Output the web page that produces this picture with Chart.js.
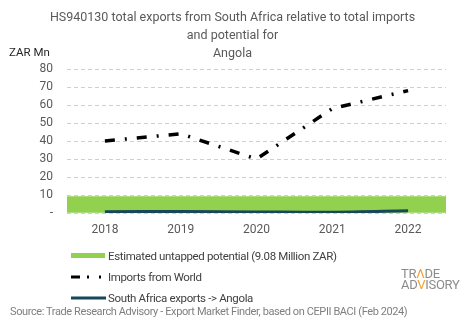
<!DOCTYPE html>
<html lang="en">
<head>
    <meta charset="UTF-8">
    <title>HS940130 exports South Africa - Angola</title>
    <style>
        body {
            margin: 0;
            padding: 0;
            background-color: #fff;
            font-family: Roboto, "Noto Sans", Arial, sans-serif;
        }

        .wrap {
            position: relative;
            width: 465px;
            height: 321px;
            overflow: hidden;
        }

        #chart {
            position: absolute;
            left: 0;
            top: 0;
        }

        .title {
            position: absolute;
            left: 0;
            width: 465px;
            top: 8px;
            text-align: center;
            color: #595959;
            font-size: 12.5px;
            line-height: 18px;
        }

        .unit {
            position: absolute;
            left: 9px;
            top: 45px;
            font-size: 11.5px;
            color: #262626;
        }

        .legend {
            position: absolute;
            left: 70px;
            top: 245px;
            font-size: 11.5px;
            letter-spacing: -0.35px;
            color: #404040;
        }

        .legend-row {
            height: 21.3px;
            display: flex;
            align-items: center;
        }

        .legend-row svg {
            margin-right: 2px;
        }

        .logo {
            position: absolute;
            left: 401px;
            top: 268px;
            color: #8c8c8c;
            font-size: 13px;
            line-height: 11px;
            letter-spacing: -0.3px;
        }

        .logo b {
            font-weight: normal;
            color: #f0a030;
        }

        .source {
            position: absolute;
            left: 10px;
            top: 305px;
            font-size: 11px;
            letter-spacing: -0.4px;
            color: #7f7f7f;
        }
    </style>
</head>
<body>

    <div class="wrap">
        <canvas id="chart" width="465" height="321"></canvas>

        <div class="title">HS940130 total exports from South Africa relative to total imports<br>and potential for<br>Angola</div>
        <div class="unit">ZAR Mn</div>

        <!-- Legend -->
        <div class="legend">
            <div class="legend-row">
                <svg width="36" height="8"><rect x="1" y="1" width="34" height="5" fill="#92d050"></rect></svg>
                <span>Estimated untapped potential (9.08 Million ZAR)</span>
            </div>
            <div class="legend-row">
                <svg width="36" height="8"><line x1="1" y1="4" x2="36" y2="4" stroke="#000" stroke-width="3" stroke-dasharray="9 7 2 10 2 10"></line></svg>
                <span>Imports from World</span>
            </div>
            <div class="legend-row">
                <svg width="36" height="8"><line x1="1" y1="4" x2="36" y2="4" stroke="#17475a" stroke-width="3"></line></svg>
                <span>South Africa exports -&gt; Angola</span>
            </div>
        </div>

        <div class="logo">TR<b>&Lambda;</b>DE<br>AD<b>V</b>ISORY</div>
        <div class="source">Source: Trade Research Advisory - Export Market Finder, based on CEPII BACI (Feb 2024)</div>
    </div>

    <script src="https://cdn.jsdelivr.net/npm/chart.js"></script>
    <script>
        // Years and series (ZAR million)
        const years = ['2018', '2019', '2020', '2021', '2022'];
        const untappedPotential = [9.08, 9.08, 9.08, 9.08, 9.08];
        const importsFromWorld = [40, 44, 30, 58, 68];
        const saExportsAngola = [0.7, 0.8, 0.6, 0.4, 1.2];

        // Y axis ticks
        const yMin = 0;
        const yMax = 80;
        const yStep = 10;

        const ctx = document.getElementById('chart').getContext('2d');
        const chart = new Chart(ctx, {
            type: 'bar',
            data: {
                labels: years,
                datasets: [
                    {
                        type: 'line',
                        label: 'South Africa exports -> Angola',
                        data: saExportsAngola,
                        borderColor: '#17475a',
                        borderWidth: 3,
                        pointRadius: 0,
                        tension: 0.3,
                        order: 1
                    },
                    {
                        type: 'line',
                        label: 'Imports from World',
                        data: importsFromWorld,
                        borderColor: '#000',
                        borderWidth: 3.5,
                        borderDash: [10, 10, 2, 10],
                        pointRadius: 0,
                        tension: 0,
                        order: 2
                    },
                    {
                        label: 'Estimated untapped potential (9.08 Million ZAR)',
                        data: untappedPotential,
                        backgroundColor: '#92d050',
                        borderWidth: 0,
                        barPercentage: 1,
                        categoryPercentage: 1,
                        order: 3
                    }
                ]
            },
            options: {
                responsive: false,
                animation: false,
                layout: {
                    padding: { top: 69, right: 19, bottom: 0, left: 0 }
                },
                plugins: {
                    legend: { display: false },
                    title: { display: false },
                    tooltip: { enabled: false }
                },
                scales: {
                    x: {
                        grid: { display: false },
                        border: { display: false },
                        ticks: {
                            color: '#595959',
                            font: { family: 'Roboto', size: 12 },
                            padding: 2
                        },
                        afterFit: (scale) => { scale.height = 108; }
                    },
                    y: {
                        min: yMin,
                        max: yMax,
                        // dashed horizontal gridlines
                        border: { display: false, dash: [4, 3] },
                        grid: {
                            color: '#cfcfcf',
                            borderDash: [4, 3],
                            drawTicks: false
                        },
                        ticks: {
                            stepSize: yStep,
                            color: '#595959',
                            font: { family: 'Roboto', size: 12 },
                            padding: 14,
                            callback: (v) => v === 0 ? '-' : v
                        },
                        afterFit: (scale) => { scale.width = 67; }
                    }
                }
            }
        });
    </script>

</body>
</html>
